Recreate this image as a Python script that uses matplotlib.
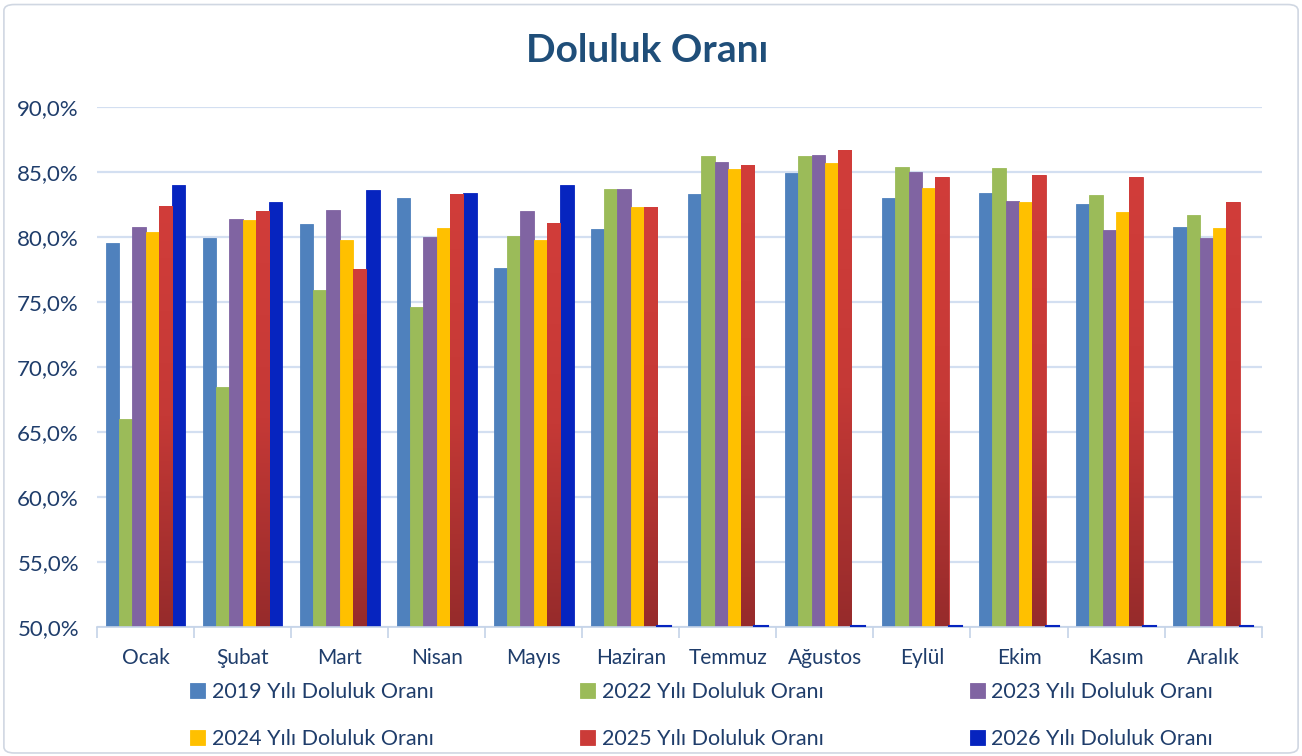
import numpy as np
import matplotlib.pyplot as plt
from matplotlib.patches import FancyBboxPatch
from matplotlib.ticker import FuncFormatter, FixedLocator
from matplotlib.colors import LinearSegmentedColormap

plt.rcParams['font.family'] = ['Lato', 'DejaVu Sans']

########## Data ############

months = ['Ocak', 'Şubat', 'Mart', 'Nisan', 'Mayıs', 'Haziran',
          'Temmuz', 'Ağustos', 'Eylül', 'Ekim', 'Kasım', 'Aralık']

y2019 = [79.5, 79.9, 81.0, 83.0, 77.6, 80.6, 83.3, 84.9, 83.0, 83.4, 82.5, 80.8]
y2022 = [66.0, 68.5, 75.9, 74.6, 80.1, 83.7, 86.2, 86.2, 85.4, 85.3, 83.2, 81.7]
y2023 = [80.8, 81.4, 82.1, 80.0, 82.0, 83.7, 85.8, 86.3, 85.0, 82.8, 80.5, 79.9]
y2024 = [80.4, 81.3, 79.8, 80.7, 79.8, 82.3, 85.2, 85.7, 83.8, 82.7, 81.9, 80.7]
y2025 = [82.4, 82.0, 77.5, 83.3, 81.1, 82.3, 85.5, 86.7, 84.6, 84.8, 84.6, 82.7]
y2026 = [84.0, 82.7, 83.6, 83.4, 84.0, 0, 0, 0, 0, 0, 0, 0]

labels = ['2019 Yılı Doluluk Oranı', '2022 Yılı Doluluk Oranı',
          '2023 Yılı Doluluk Oranı', '2024 Yılı Doluluk Oranı',
          '2025 Yılı Doluluk Oranı', '2026 Yılı Doluluk Oranı']

series = [y2019, y2022, y2023, y2024, y2025, y2026]
colors = ['#4F81BD', '#9BBB59', '#8064A2', '#FFC000', '#CB3B38', '#0624BF']

ymin, ymax = 50, 90
text_col = '#1F3D6B'

########## Plotting ############

fig = plt.figure(figsize=(13.02, 7.56), dpi=100)
ax = fig.add_axes([0.0745, 0.1706, 0.8945, 0.6879])

x = np.arange(len(months))
w = 0.137
bars = []
for i, (vals, c, lab) in enumerate(zip(series, colors, labels)):
    v = np.array(vals, dtype=float)
    h = np.maximum(v - ymin, 0)
    b = ax.bar(x + (i - 2.5) * w, h, w, bottom=ymin, color=c, label=lab,
               edgecolor=c, linewidth=0.6, zorder=3)
    bars.append(b)

# empty 2026 months show as a hairline on the axis
for p in bars[5].patches:
    if p.get_height() == 0:
        ax.plot([p.get_x(), p.get_x() + p.get_width()], [ymin + 0.05] * 2,
                color=colors[5], lw=1.5, zorder=5, clip_on=False)

# gradient on the 2025 bars
red_cmap = LinearSegmentedColormap.from_list('red', ['#962B2B', '#C53936', '#D13D3A'])
grad = np.linspace(0, 1, 256).reshape(-1, 1)
for p in bars[4].patches:
    x0, y0 = p.get_x(), p.get_y()
    im = ax.imshow(grad, extent=[x0, x0 + p.get_width(), y0, y0 + p.get_height()],
                   origin='lower', cmap=red_cmap, aspect='auto', zorder=3.5)
    im.set_clip_path(p)

ax.set_xlim(-0.5, len(months) - 0.5)
ax.set_ylim(ymin, ymax)
ax.set_yticks(np.arange(50, 91, 5))
ax.yaxis.set_major_formatter(FuncFormatter(lambda v, p: f'{v:.1f}%'.replace('.', ',')))
ax.set_xticks(x)
ax.set_xticklabels(months)
ax.xaxis.set_minor_locator(FixedLocator(np.arange(-0.5, len(months), 1)))
ax.tick_params(axis='x', which='major', length=0, pad=15, labelsize=15, labelcolor=text_col)
ax.tick_params(axis='x', which='minor', length=8, color='#C5D3E8', width=1.2)
ax.tick_params(axis='y', length=0, pad=13, labelsize=16, labelcolor=text_col)

ax.grid(axis='y', color='#D3DFF1', linewidth=1.6, zorder=0)
for s in ['top', 'right', 'left']:
    ax.spines[s].set_visible(False)
ax.spines['bottom'].set_color('#C5D3E8')
ax.spines['bottom'].set_linewidth(1.2)
ax.spines['bottom'].set_zorder(4)

fig.text(0.497, 0.933, 'Doluluk Oranı', ha='center', va='center',
         fontsize=28, fontweight='bold', color='#1F4E79')

# legend, Excel fills row by row
order = [0, 3, 1, 4, 2, 5]
handles = [bars[i] for i in order]
leg = fig.legend(handles, [labels[i] for i in order], ncol=3,
                 loc='center', bbox_to_anchor=(0.539, 0.053), frameon=False,
                 fontsize=15.5, handlelength=0.7, handleheight=0.7,
                 handletextpad=0.3, columnspacing=6.8, labelspacing=1.25)
for t in leg.get_texts():
    t.set_color(text_col)

# chart border
fig.patches.append(FancyBboxPatch((0.003, 0.004), 0.994, 0.99,
                                  boxstyle='round,pad=0,rounding_size=0.008',
                                  transform=fig.transFigure, fill=False,
                                  edgecolor='#D0D7E2', linewidth=1.2))

plt.savefig('out.png', dpi=100)
